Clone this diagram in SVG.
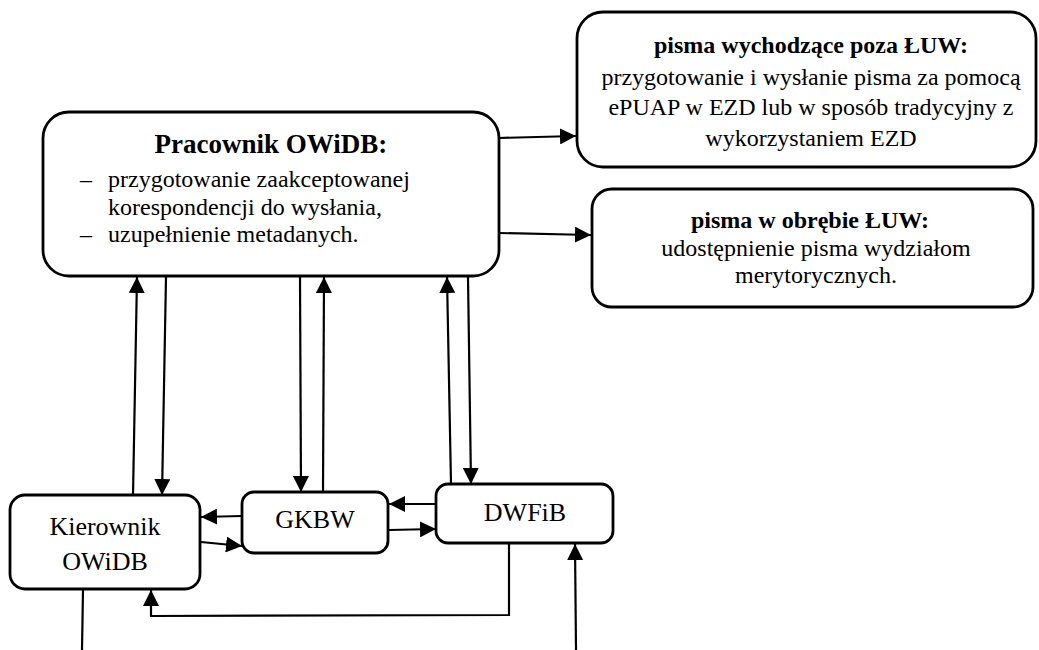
<svg xmlns="http://www.w3.org/2000/svg" width="1039" height="650" viewBox="0 0 1039 650">
<style>
.box{fill:#fff;stroke:#000;stroke-width:2.8}
.t{font-family:"Liberation Serif","Times New Roman",serif;font-size:24px;fill:#000}
.b{font-weight:bold}
.c{text-anchor:middle}
.ln{fill:none;stroke:#000;stroke-width:2.2}
</style>
<defs>
<marker id="ah" markerUnits="userSpaceOnUse" viewBox="0 0 16 16" markerWidth="16" markerHeight="16" refX="16" refY="8" orient="auto">
<path d="M0,0 L16,8 L0,16 z" fill="#000"/>
</marker>
</defs>
<rect width="1039" height="650" fill="#fff"/>
<g id="connectors">
<line class="ln" x1="499" y1="138" x2="576" y2="136" marker-end="url(#ah)"/>
<line class="ln" x1="499" y1="233" x2="591" y2="235" marker-end="url(#ah)"/>
<line class="ln" x1="133" y1="495" x2="137" y2="277" marker-end="url(#ah)"/>
<line class="ln" x1="166" y1="277" x2="162" y2="495" marker-end="url(#ah)"/>
<line class="ln" x1="300" y1="277" x2="301" y2="492" marker-end="url(#ah)"/>
<line class="ln" x1="323" y1="492" x2="324" y2="277" marker-end="url(#ah)"/>
<line class="ln" x1="451" y1="484" x2="447" y2="277" marker-end="url(#ah)"/>
<line class="ln" x1="468" y1="277" x2="471" y2="484" marker-end="url(#ah)"/>
<line class="ln" x1="242" y1="516" x2="201" y2="517" marker-end="url(#ah)"/>
<line class="ln" x1="201" y1="542" x2="242" y2="546" marker-end="url(#ah)"/>
<line class="ln" x1="436" y1="504" x2="389" y2="504" marker-end="url(#ah)"/>
<line class="ln" x1="389" y1="530" x2="436" y2="529" marker-end="url(#ah)"/>
<polyline class="ln" points="509,544 509,615 151,616 151,590" marker-end="url(#ah)"/>
<line class="ln" x1="83" y1="590" x2="82" y2="650"/>
<line class="ln" x1="576" y1="650" x2="575" y2="544" marker-end="url(#ah)"/>
</g>
<g id="pracownik">
<rect class="box" x="43" y="112" width="456" height="164" rx="26"/>
<text class="t b c" x="271" y="153" style="font-size:27px">Pracownik OWiDB:</text>
<text class="t" x="80" y="187">–</text>
<text class="t" x="108" y="187">przygotowanie zaakceptowanej</text>
<text class="t" x="108" y="215">korespondencji do wysłania,</text>
<text class="t" x="80" y="242">–</text>
<text class="t" x="108" y="242">uzupełnienie metadanych.</text>
</g>
<g id="poza">
<rect class="box" x="577" y="12" width="459" height="155" rx="26"/>
<text class="t b c" x="811" y="53">pisma wychodzące poza ŁUW:</text>
<text class="t c" x="811" y="85">przygotowanie i wysłanie pisma za pomocą</text>
<text class="t c" x="811" y="115">ePUAP w EZD lub w sposób tradycyjny z</text>
<text class="t c" x="811" y="146">wykorzystaniem EZD</text>
</g>
<g id="obrebie">
<rect class="box" x="592" y="189" width="441" height="118" rx="20"/>
<text class="t b c" x="810" y="228">pisma w obrębie ŁUW:</text>
<text class="t c" x="816" y="256">udostępnienie pisma wydziałom</text>
<text class="t c" x="816" y="283">merytorycznych.</text>
</g>
<g id="kierownik">
<rect class="box" x="10" y="495" width="190" height="94" rx="15"/>
<text class="t c" x="105" y="535" style="font-size:26px">Kierownik</text>
<text class="t c" x="105" y="570" style="font-size:26px">OWiDB</text>
</g>
<g id="gkbw">
<rect class="box" x="242" y="492" width="146" height="61" rx="12"/>
<text class="t c" x="315" y="528" style="font-size:26px">GKBW</text>
</g>
<g id="dwfib">
<rect class="box" x="436" y="484" width="177" height="59" rx="12"/>
<text class="t c" x="525" y="521" style="font-size:26px">DWFiB</text>
</g>
</svg>
